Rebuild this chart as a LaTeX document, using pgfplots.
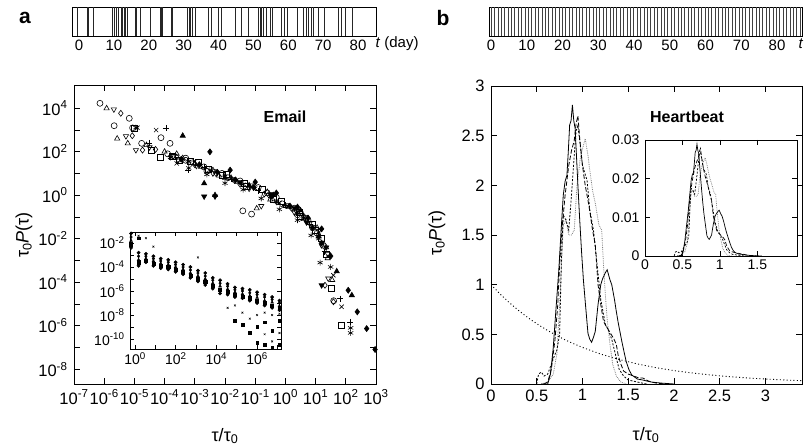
\documentclass[border=0pt]{standalone}
\usepackage{pgfplots}
\pgfplotsset{compat=1.18}
\usepackage{pgfplotstable}
\usepackage{fontspec}
\setmainfont{Liberation Sans}
\setsansfont{Liberation Sans}
\newcommand{\fs}[1]{\fontsize{#1}{#1}\selectfont}
\newcommand{\sps}[1]{10\textsuperscript{#1}}

% Heartbeat curves (main panel coordinates)
\pgfplotstableread[row sep=\\]{
x y\\
0.55 0\\ 0.62 0\\ 0.65 0.1\\ 0.68 0.36\\ 0.71 0.75\\ 0.74 1.13\\ 0.77 1.6\\ 0.79 1.9\\ 0.81 2.04\\ 0.83 2.1\\
0.845 2.34\\ 0.86 2.61\\ 0.875 2.65\\ 0.89 2.81\\ 0.905 2.65\\ 0.92 2.57\\ 0.95 2.0\\ 0.97 1.65\\ 0.99 1.33\\
1.01 1.05\\ 1.03 0.83\\ 1.06 0.51\\ 1.08 0.45\\ 1.10 0.42\\ 1.12 0.47\\ 1.14 0.53\\ 1.17 0.80\\ 1.20 1.0\\
1.22 1.06\\ 1.25 1.12\\ 1.27 1.15\\ 1.30 1.05\\ 1.32 1.0\\ 1.35 0.85\\ 1.37 0.73\\ 1.39 0.62\\ 1.43 0.43\\
1.46 0.3\\ 1.48 0.22\\ 1.51 0.14\\ 1.54 0.09\\ 1.60 0.05\\ 1.66 0.04\\ 1.75 0.02\\ 1.85 0.01\\ 2.0 0\\
}\hbsolid
\pgfplotstableread[row sep=\\]{
x y\\
0.58 0\\ 0.62 0.02\\ 0.66 0.15\\ 0.70 0.45\\ 0.73 0.8\\ 0.75 1.2\\ 0.78 1.6\\ 0.81 1.9\\ 0.85 2.2\\ 0.88 2.35\\
0.91 2.45\\ 0.93 2.62\\ 0.95 2.7\\ 0.97 2.47\\ 1.0 2.2\\ 1.03 2.0\\ 1.06 1.85\\ 1.08 1.74\\ 1.11 1.55\\ 1.14 1.4\\
1.17 1.0\\ 1.20 0.8\\ 1.23 0.63\\ 1.26 0.58\\ 1.30 0.52\\ 1.34 0.46\\ 1.37 0.40\\ 1.39 0.29\\ 1.42 0.2\\
1.45 0.13\\ 1.50 0.1\\ 1.56 0.08\\ 1.62 0.06\\ 1.66 0.06\\ 1.72 0.03\\ 1.8 0.01\\ 1.9 0\\
}\hbdash
\pgfplotstableread[row sep=\\]{
x y\\
0.50 0\\ 0.52 0.1\\ 0.55 0.12\\ 0.58 0.08\\ 0.62 0.1\\ 0.66 0.2\\ 0.70 0.3\\ 0.72 0.34\\ 0.75 0.5\\ 0.77 1.25\\
0.79 1.7\\ 0.82 1.65\\ 0.85 1.55\\ 0.88 1.9\\ 0.91 2.3\\ 0.93 2.55\\ 0.95 2.6\\ 0.97 2.45\\ 1.0 2.2\\ 1.05 2.05\\
1.08 1.75\\ 1.12 1.55\\ 1.16 1.2\\ 1.20 0.85\\ 1.25 0.6\\ 1.28 0.55\\ 1.32 0.45\\ 1.36 0.3\\ 1.40 0.15\\
1.45 0.08\\ 1.5 0.04\\ 1.6 0.02\\ 1.7 0\\
}\hbshort
\pgfplotstableread[row sep=\\]{
x y\\
0.55 0\\ 0.62 0.02\\ 0.68 0.1\\ 0.72 0.3\\ 0.75 0.8\\ 0.77 1.2\\ 0.79 1.6\\ 0.82 1.65\\ 0.85 1.5\\ 0.88 1.5\\
0.91 1.55\\ 0.94 2.0\\ 0.98 2.3\\ 1.01 2.4\\ 1.03 2.47\\ 1.06 2.3\\ 1.08 2.15\\ 1.11 1.95\\ 1.14 1.82\\ 1.18 1.6\\
1.21 1.55\\ 1.23 1.2\\ 1.25 0.9\\ 1.27 0.65\\ 1.30 0.4\\ 1.33 0.2\\ 1.37 0.08\\ 1.42 0.02\\ 1.48 0\\
}\hbgray

% Email inset: columns (log10 values)
\pgfplotstableread[row sep=\\]{
lx A B C D E\\
-0.2 -1.2 -1.5 -1.8 -2.1 -2.4\\
0.17 -2.8 -3.1 -3.4 -3.6 -3.9\\
0.53 -2.9 -3.1 -3.3 -3.45 -3.6\\
0.9 -3.1 -3.3 -3.5 -3.7 -3.9\\
1.26 -3.3 -3.5 -3.7 -3.9 -4.1\\
1.63 -3.4 -3.6 -3.8 -4.0 -4.2\\
1.99 -3.6 -3.8 -4.0 -4.2 -4.4\\
2.36 -3.8 -4.0 -4.2 -4.4 -4.6\\
2.72 -4.0 -4.25 -4.5 -4.7 -4.9\\
3.09 -4.3 -4.5 -4.75 -5.0 -5.2\\
3.45 -4.5 -4.75 -5.0 -5.25 -5.5\\
3.82 -4.9 -5.1 -5.35 -5.55 -5.8\\
4.18 -5.1 -5.35 -5.6 -5.9 -6.2\\
4.55 -5.4 -5.6 -5.85 -6.05 -6.3\\
4.91 -5.7 -5.9 -6.1 -6.3 -6.5\\
5.28 -5.8 -6.0 -6.25 -6.45 -6.6\\
5.64 -5.9 -6.15 -6.4 -6.6 -6.8\\
6.0 -6.1 -6.3 -6.55 -6.8 -7.0\\
6.37 -6.3 -6.5 -6.8 -7.0 -7.2\\
6.74 -6.5 -6.7 -6.95 -7.2 -7.4\\
7.1 -6.8 -7.0 -7.25 -7.45 -7.6\\
}\inset

% Email main: extra points filling the dense band
\pgfplotstableread[row sep=\\]{
lx o s t d a v\\
-3.9 1.9 1.8 1.9 1.65 1.75 1.6\\
-3.3 1.7 1.55 1.45 1.4 1.25 1.35\\
-2.7 1.3 1.2 1.15 1.05 0.95 1.1\\
-2.1 1.0 0.95 0.8 0.7 0.55 0.75\\
-1.5 0.65 0.55 0.4 0.35 0.25 0.45\\
-0.9 0.35 0.25 0.15 -0.05 -0.15 0.0\\
-0.3 -0.1 -0.3 -0.5 -0.5 -0.65 -0.45\\
0.3 -0.6 -0.8 -0.95 -1.05 -1.15 -1.0\\
0.75 -1.15 -1.35 -1.5 -1.55 -1.85 -1.65\\
1.05 -1.75 -2.0 -2.4 -2.8 -3.1 -2.7\\
}\embulk

\pgfplotsset{
  myax/.style={
    scale only axis, anchor=south west,
    axis line style={line width=0.8pt},
    every tick/.style={line width=0.7pt, black},
    tick align=inside,
    major tick length=6pt, minor tick length=6pt,
    tick label style={font=\fs{16.5}},
    /pgf/number format/assume math mode=true,
    scaled ticks=false,
  },
  bar/.style={
    myax, height=29pt, ymin=0, ymax=1, ytick=\empty,
    xtick={0,10,...,80}, major tick length=0pt,
    tick label style={font=\fs{15}},
    axis line style={line width=0.8pt},
  },
}

\begin{document}
\begin{tikzpicture}[x=1pt,y=1pt]
\useasboundingbox (0pt,0pt) rectangle (806pt,447pt);

% ---------- panel a barcode
\begin{axis}[bar, at={(72.7pt,411pt)}, width=304pt, xmin=-1.81, xmax=85.36]
\addplot[ycomb, black!85, line width=0.7pt, mark=none] coordinates {
(-0.5,1)(2.4,1)(2.8,1)(4.1,1)(9.5,1)(10.1,1)(10.8,1)(11.4,1)(12.0,1)(12.5,1)(13.0,1)(13.4,1)(13.8,1)
(16.1,1)(16.5,1)(17.5,1)(20.4,1)(23.2,1)(23.7,1)(24.0,1)(26.6,1)(26.9,1)(31.1,1)(31.5,1)(32.0,1)(32.6,1)
(33.3,1)(37.1,1)(38.0,1)(39.9,1)(40.9,1)(44.7,1)(46.5,1)(48.5,1)(51.4,1)(51.9,1)(52.4,1)(52.8,1)(53.8,1)
(54.8,1)(55.3,1)(58.1,1)(58.8,1)(59.6,1)(62.7,1)(64.3,1)(65.1,1)(65.7,1)(66.7,1)(67.2,1)(68.6,1)(70.3,1)
(74.4,1)(75.3,1)(76.3,1)(78.5,1)};
\end{axis}
\node[anchor=west, font=\fs{15}] at (372pt,403pt) {\textit{t} (day)};

% ---------- panel b barcode
\begin{axis}[bar, at={(489pt,411pt)}, width=313pt, xmin=-0.56, xmax=86.99]
\addplot[ycomb, black!75, line width=0.6pt, mark=none] coordinates {
(0,1)(0.95,1)(1.9,1)(2.85,1)(3.8,1)(4.75,1)(5.7,1)(6.65,1)(7.6,1)(8.55,1)(9.5,1)(10.45,1)(11.4,1)(12.35,1)
(13.3,1)(14.25,1)(15.2,1)(16.15,1)(17.1,1)(18.05,1)(19,1)(19.95,1)(20.9,1)(21.85,1)(22.8,1)(23.75,1)(24.7,1)
(25.65,1)(26.6,1)(27.55,1)(28.5,1)(29.45,1)(30.4,1)(31.35,1)(32.3,1)(33.25,1)(34.2,1)(35.15,1)(36.1,1)
(37.05,1)(38,1)(38.95,1)(39.9,1)(40.85,1)(41.8,1)(42.75,1)(43.7,1)(44.65,1)(45.6,1)(46.55,1)(47.5,1)
(48.45,1)(49.4,1)(50.35,1)(51.3,1)(52.25,1)(53.2,1)(54.15,1)(55.1,1)(56.05,1)(57,1)(57.95,1)(58.9,1)
(59.85,1)(60.8,1)(61.75,1)(62.7,1)(63.65,1)(64.6,1)(65.55,1)(66.5,1)(67.45,1)(68.4,1)(69.35,1)(70.3,1)
(71.25,1)(72.2,1)(73.15,1)(74.1,1)(75.05,1)(76,1)(76.95,1)(77.9,1)(78.85,1)(79.8,1)(80.75,1)(81.7,1)
(82.65,1)(83.6,1)(84.55,1)(85.5,1)(86.45,1)};
\end{axis}
\node[anchor=west, font=\fs{15}] at (795pt,403pt) {\textit{t}};

% ---------- panel a main
\begin{axis}[myax, at={(74pt,62.7pt)}, width=302pt, height=299.3pt,
  xmode=log, ymode=log,
  xmin=1e-7, xmax=1e3, ymin=2.04e-9, ymax=1.15e5,
  xtick={1e-7,1e-6,1e-5,1e-4,1e-3,1e-2,1e-1,1,1e1,1e2,1e3},
  xticklabels={\sps{-7},\sps{-6},\sps{-5},\sps{-4},\sps{-3},\sps{-2},\sps{-1},\sps{0},\sps{1},\sps{2},\sps{3}},
  ytick={1e-8,1e-6,1e-4,1e-2,1,1e2,1e4},
  yticklabels={\sps{-8},\sps{-6},\sps{-4},\sps{-2},\sps{0},\sps{2},\sps{4}},
  minor ytick={1e-7,1e-5,1e-3,1e-1,1e1,1e3},
  xminorticks=false,
  xticklabel style={yshift=-2pt}, yticklabel style={xshift=-3pt},
  mark size=3pt,
]
\addplot[densely dotted, dash pattern=on 1pt off 2.4pt, line width=0.9pt] coordinates {
(1e-6,1)(1e-4,1)(1e-2,0.99)(0.05,0.951)(0.1,0.905)(0.2,0.819)(0.5,0.607)(1,0.368)(2,0.135)(3,0.0498)
(4,0.0183)(5,6.74e-3)(6,2.48e-3)(7,9.12e-4)(8,3.35e-4)(9,1.23e-4)(10,4.54e-5)(11,1.67e-5)(12,6.14e-6)
(13,2.26e-6)(14,8.32e-7)(15,3.06e-7)(16,1.13e-7)(17,4.14e-8)(18,1.52e-8)(19,5.6e-9)(20,2.06e-9)};
\pgfplotsset{every axis plot/.append style={only marks, line width=0.6pt, black}}
\addplot[mark=o] table[x expr=10^(\thisrow{lx}), y expr=10^(\thisrow{o})] {\embulk};
\addplot[mark=square] table[x expr=10^(\thisrow{lx}+0.15), y expr=10^(\thisrow{s})] {\embulk};
\addplot[mark=triangle] table[x expr=10^(\thisrow{lx}+0.3), y expr=10^(\thisrow{t})] {\embulk};
\addplot[mark=diamond*, mark options={fill=black}] table[x expr=10^(\thisrow{lx}+0.45), y expr=10^(\thisrow{d})] {\embulk};
\addplot[mark=asterisk] table[x expr=10^(\thisrow{lx}+0.1), y expr=10^(\thisrow{a})] {\embulk};
\addplot[mark=triangle, mark options={rotate=180}] table[x expr=10^(\thisrow{lx}+0.35), y expr=10^(\thisrow{v})] {\embulk};
\addplot[mark=o] table[row sep=\\, x expr=10^(\thisrow{lx}), y expr=10^(\thisrow{ly})] {
lx ly\\ -6.14 4.22\\ -5.67 3.19\\ -5.17 3.53\\ -5.06 3.09\\ -4.76 2.38\\ -4.12 2.64\\ -3.82 2.38\\ -3.3 1.6\\
-2.6 1.1\\ -1.9 0.8\\ -1.41 -0.72\\ -1.12 -0.87\\ -0.6 0.1\\ -0.1 -0.4\\ 0.4 -0.9\\ 0.9 -1.5\\ 1.25 -2.3\\ 1.6 -4.85\\};
\addplot[mark=triangle] table[row sep=\\, x expr=10^(\thisrow{lx}), y expr=10^(\thisrow{ly})] {
lx ly\\ -5.92 3.99\\ -5.57 2.6\\ -5.22 2.38\\ -4.6 2.3\\ -4.0 2.0\\ -3.4 1.7\\ -2.8 1.3\\ -2.2 0.9\\ -1.6 0.6\\
-0.95 -0.61\\ -0.5 -0.2\\ 0.1 -0.55\\ 0.6 -1.1\\ 1.1 -1.8\\ 1.4 -2.9\\ 1.55 -3.9\\};
\addplot[mark=triangle, mark options={rotate=180}] table[row sep=\\, x expr=10^(\thisrow{lx}), y expr=10^(\thisrow{ly})] {
lx ly\\ -5.68 3.94\\ -5.28 2.71\\ -4.95 2.07\\ -4.5 2.2\\ -3.7 1.8\\ -3.1 1.5\\ -2.4 1.0\\ -1.7 0.7\\ -1.2 0.3\\
-0.8 -0.5\\ -0.3 -0.3\\ 0.3 -0.8\\ 0.8 -1.3\\ 1.2 -2.3\\ 1.42 -3.83\\};
\addplot[mark=diamond] table[row sep=\\, x expr=10^(\thisrow{lx}), y expr=10^(\thisrow{ly})] {
lx ly\\ -5.45 3.76\\ -5.07 2.73\\ -4.73 2.07\\ -4.3 2.1\\ -3.6 1.75\\ -3.0 1.4\\ -2.3 1.0\\ -1.5 0.5\\ -0.7 0.05\\
0.2 -0.6\\ 0.7 -1.2\\ 1.31 -4.14\\ 1.59 -4.9\\};
\addplot[mark=square] table[row sep=\\, x expr=10^(\thisrow{lx}), y expr=10^(\thisrow{ly})] {
lx ly\\ -5.0 3.05\\ -4.43 2.07\\ -4.15 1.73\\ -3.5 1.6\\ -2.9 1.5\\ -2.1 0.9\\ -1.3 0.4\\ -0.4 -0.2\\ 0.5 -0.95\\
1.0 -1.6\\ 1.35 -2.7\\ 1.53 -4.29\\ 1.86 -5.98\\};
\addplot[mark=x] table[row sep=\\, x expr=10^(\thisrow{lx}), y expr=10^(\thisrow{ly})] {
lx ly\\ -4.9 3.1\\ -4.28 2.99\\ -3.6 1.46\\ -3.0 1.55\\ -2.0 0.85\\ -1.0 0.3\\ -0.2 -0.35\\ 0.6 -1.0\\ 1.2 -2.2\\
1.59 -3.68\\ 1.86 -5.13\\};
\addplot[mark=+] table[row sep=\\, x expr=10^(\thisrow{lx}), y expr=10^(\thisrow{ly})] {
lx ly\\ -3.96 3.09\\ -4.5 2.4\\ -3.22 1.15\\ -2.7 1.3\\ -1.8 0.75\\ -0.9 0.2\\ 0.0 -0.45\\ 0.8 -1.35\\ 1.3 -2.6\\
1.81 -4.75\\ 2.14 -5.82\\};
\addplot[mark=asterisk] table[row sep=\\, x expr=10^(\thisrow{lx}), y expr=10^(\thisrow{ly})] {
lx ly\\ -4.95 3.1\\ -3.8 1.73\\ -3.2 1.55\\ -2.5 1.15\\ -1.4 0.5\\ -0.3 -0.3\\ 0.4 -0.85\\ 1.1 -2.0\\ 1.5 -3.3\\
2.16 -6.33\\ 2.16 -6.1\\};
\addplot[mark=triangle*, mark options={fill=black}] table[row sep=\\, x expr=10^(\thisrow{lx}), y expr=10^(\thisrow{ly})] {
lx ly\\ -3.4 2.73\\ -2.69 0.54\\ -2.33 0.0\\ -2.0 0.8\\ -1.2 0.45\\ -0.4 0.0\\ 0.5 -0.7\\ 1.1 -1.9\\ 1.7 -3.5\\ 2.2 -4.6\\};
\addplot[mark=diamond*, mark options={fill=black}] table[row sep=\\, x expr=10^(\thisrow{lx}), y expr=10^(\thisrow{ly})] {
lx ly\\ -2.5 1.99\\ -1.83 1.15\\ -1.0 0.6\\ -0.3 0.1\\ 0.4 -0.55\\ 0.9 -1.5\\ 1.2 -2.2\\ 2.08 -4.37\\ 2.38 -5.36\\
2.69 -6.13\\ 2.97 -7.09\\};
\addplot[mark=triangle*, mark options={fill=black, rotate=180}] table[row sep=\\, x expr=10^(\thisrow{lx}), y expr=10^(\thisrow{ly})] {
lx ly\\ -2.69 -0.06\\ -2.33 -0.06\\ -1.5 0.6\\ -0.5 0.05\\ 0.3 -0.6\\ 0.7 -1.25\\ 1.2 -4.14\\ 1.35 -2.4\\};
\end{axis}

% ---------- panel a inset
\begin{axis}[myax, at={(130pt,98pt)}, width=151pt, height=117pt,
  axis background/.style={fill=white},
  xmode=log, ymode=log,
  xmin=0.56, xmax=1.5e7, ymin=1.48e-11, ymax=8.3e-2,
  xtick={1,1e2,1e4,1e6}, xticklabels={\sps{0},\sps{2},\sps{4},\sps{6}},
  minor xtick={10,1e3,1e5,1e7},
  ytick={1e-10,1e-8,1e-6,1e-4,1e-2},
  yticklabels={\sps{-10},\sps{-8},\sps{-6},\sps{-4},\sps{-2}},
  minor ytick={1e-11,1e-9,1e-7,1e-5,1e-3},
  tick label style={font=\fs{14}},
  major tick length=4pt, minor tick length=4pt,
  yticklabel style={xshift=-2pt},
  mark size=1.6pt,
]
\pgfplotsset{every axis plot/.append style={only marks, line width=0.5pt, black}}
\addplot[mark=*] table[x expr=10^(\thisrow{lx}), y expr=10^(\thisrow{A})] {\inset};
\addplot[mark=diamond*] table[x expr=10^(\thisrow{lx}), y expr=10^(\thisrow{B})] {\inset};
\addplot[mark=triangle*] table[x expr=10^(\thisrow{lx}), y expr=10^(\thisrow{C})] {\inset};
\addplot[mark=square*] table[x expr=10^(\thisrow{lx}), y expr=10^(\thisrow{D})] {\inset};
\addplot[mark=*] table[x expr=10^(\thisrow{lx}), y expr=10^(\thisrow{E})] {\inset};
\addplot[mark=x, mark size=1.3pt] table[row sep=\\, x expr=10^(\thisrow{lx}), y expr=10^(\thisrow{ly})] {
lx ly\\ 0.17 -1.4\\ 0.53 -1.6\\ 0.9 -2.3\\ 3.09 -3.2\\ 4.55 -7.4\\ 4.91 -7.2\\ 5.28 -7.8\\ 5.64 -8.3\\ 6.0 -8.0\\
6.37 -7.8\\ 6.37 -9.6\\ 6.74 -8.0\\ 6.74 -10.2\\ 7.1 -7.9\\ 7.1 -9.5\\};
\addplot[mark=square*, mark size=1.3pt] table[row sep=\\, x expr=10^(\thisrow{lx}), y expr=10^(\thisrow{ly})] {
lx ly\\ 0.17 -1.6\\ 4.91 -8.5\\ 5.28 -8.8\\ 5.64 -9.5\\ 6.0 -9.0\\ 6.0 -10.3\\ 6.37 -8.6\\ 6.37 -10.5\\ 6.74 -9.3\\
6.74 -10.7\\ 7.1 -8.5\\ 7.1 -10.5\\};
\end{axis}

% ---------- panel b main
\begin{axis}[myax, at={(491pt,63pt)}, width=311pt, height=298pt,
  xmin=0, xmax=3.4, ymin=0, ymax=3,
  xtick={0,0.5,1,1.5,2,2.5,3}, xticklabels={0,0.5,1,1.5,2,2.5,3},
  ytick={0,0.5,1,1.5,2,2.5,3}, yticklabels={0,0.5,1,1.5,2,2.5,3},
  xticklabel style={yshift=-2pt}, yticklabel style={xshift=-3pt},
]
\addplot[black, dash pattern=on 1pt off 2.4pt, line width=0.9pt] coordinates {
(0,1)(0.1,0.905)(0.2,0.819)(0.3,0.741)(0.4,0.670)(0.5,0.607)(0.6,0.549)(0.7,0.497)(0.8,0.449)(0.9,0.407)
(1.0,0.368)(1.2,0.301)(1.4,0.247)(1.6,0.202)(1.8,0.165)(2.0,0.135)(2.2,0.111)(2.4,0.091)(2.6,0.074)
(2.8,0.061)(3.0,0.050)(3.2,0.041)(3.4,0.033)};
\addplot[gray, line width=0.8pt, dash pattern=on 0.8pt off 1pt] table {\hbgray};
\addplot[black, line width=0.8pt, dash pattern=on 2pt off 1.6pt] table {\hbshort};
\addplot[black, line width=0.8pt, dash pattern=on 4.5pt off 2pt] table {\hbdash};
\addplot[black, line width=0.8pt] table {\hbsolid};
\end{axis}

% ---------- panel b inset
\begin{axis}[myax, at={(645pt,191pt)}, width=152pt, height=116pt,
  axis background/.style={fill=white},
  xmin=0, xmax=2.03, ymin=0, ymax=0.03,
  xtick={0,0.5,1,1.5}, xticklabels={0,0.5,1,1.5},
  ytick={0,0.01,0.02,0.03}, yticklabels={0,0.01,0.02,0.03},
  tick label style={font=\fs{14}},
  major tick length=5pt,
  yticklabel style={xshift=-2pt},
]
\addplot[gray, line width=0.7pt, dash pattern=on 0.8pt off 1pt] table[x expr=\thisrow{x}*0.78, y expr=\thisrow{y}*0.0103] {\hbgray};
\addplot[black, line width=0.7pt, dash pattern=on 2pt off 1.6pt] table[x expr=\thisrow{x}*0.78, y expr=\thisrow{y}*0.0103] {\hbshort};
\addplot[black, line width=0.7pt, dash pattern=on 4pt off 2pt] table[x expr=\thisrow{x}*0.78, y expr=\thisrow{y}*0.0103] {\hbdash};
\addplot[black, line width=0.7pt] table[x expr=\thisrow{x}*0.78, y expr=\thisrow{y}*0.0103] {\hbsolid};
\end{axis}

% ---------- labels
\node[font=\fs{21}\bfseries] at (25pt,429pt) {a};
\node[font=\fs{21}\bfseries] at (443pt,429pt) {b};
\node[font=\fs{16}\bfseries] at (285pt,330pt) {Email};
\node[font=\fs{16}\bfseries] at (687pt,330pt) {Heartbeat};
\node[rotate=90, font=\fs{18}] at (24pt,212pt) {τ\textsubscript{0}\textit{P}(τ)};
\node[rotate=90, font=\fs{18}] at (437pt,214pt) {τ\textsubscript{0}\textit{P}(τ)};
\node[font=\fs{18}] at (225pt,11pt) {τ/τ\textsubscript{0}};
\node[font=\fs{18}] at (646pt,12pt) {τ/τ\textsubscript{0}};
\end{tikzpicture}
\end{document}
